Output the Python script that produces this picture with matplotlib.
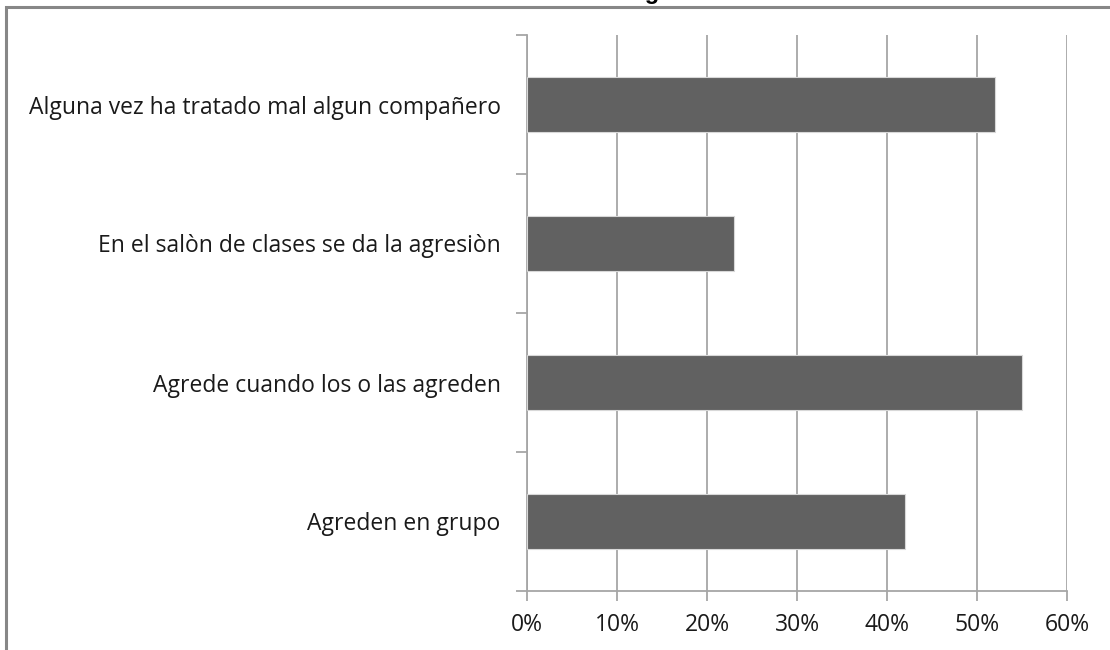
import matplotlib.pyplot as plt
from matplotlib.patches import Rectangle
from matplotlib.ticker import FuncFormatter

categories = ['Agreden en grupo',
              'Agrede cuando los o las agreden',
              'En el salòn de clases se da la agresiòn',
              'Alguna vez ha tratado mal algun compañero']
values = [0.42, 0.55, 0.23, 0.52]
xticks = [0, 0.1, 0.2, 0.3, 0.4, 0.5, 0.6]

fig = plt.figure(figsize=(11.1, 6.5), dpi=100)
W, H = 1110, 650
ax = fig.add_axes([527 / W, 1 - 591 / H, 540 / W, 556 / H])

# frame around chart
fig.patches.append(Rectangle((6 / W, -0.1), 1.2, 1.1 - 7 / H, transform=fig.transFigure,
                             fill=False, edgecolor='#878787', linewidth=2.2, zorder=0))

ax.barh(range(len(categories)), values, height=0.39, color='#616161',
        edgecolor='#d8d8d8', linewidth=0.8, zorder=3)

ax.set_xlim(0, 0.6)
ax.set_ylim(-0.5, len(categories) - 0.5)
ax.set_xticks(xticks)
ax.xaxis.set_major_formatter(FuncFormatter(lambda v, p: f'{v * 100:.0f}%'))
ax.grid(axis='x', color='#a6a6a6', linewidth=1.3, zorder=0)

ax.set_yticks([i - 0.5 for i in range(len(categories) + 1)])
ax.set_yticklabels([])
ax.set_yticks(range(len(categories)), minor=True)
ax.set_yticklabels(categories, minor=True)
ax.tick_params(axis='y', which='minor', length=0, pad=19, labelsize=16.5)
ax.tick_params(axis='y', which='major', length=8, color='#a6a6a6', width=1.3)
ax.tick_params(axis='x', length=7, color='#a6a6a6', width=1.3, labelsize=16.5, pad=9)
for lab in ax.get_yticklabels(minor=True) + ax.get_xticklabels():
    lab.set_fontfamily('Open Sans')
    lab.set_color('#1a1a1a')

for s in ['top', 'right']:
    ax.spines[s].set_visible(False)
for s in ['left', 'bottom']:
    ax.spines[s].set_color('#a6a6a6')
    ax.spines[s].set_linewidth(1.3)

# title sits mostly above the picture, as in the original
fig.text(575 / W, 1 + 1 / H, 'Identificación del agresor', ha='center', va='baseline',
         fontsize=17, fontweight='bold', family='Liberation Sans')

fig.savefig('out.png', dpi=100)
